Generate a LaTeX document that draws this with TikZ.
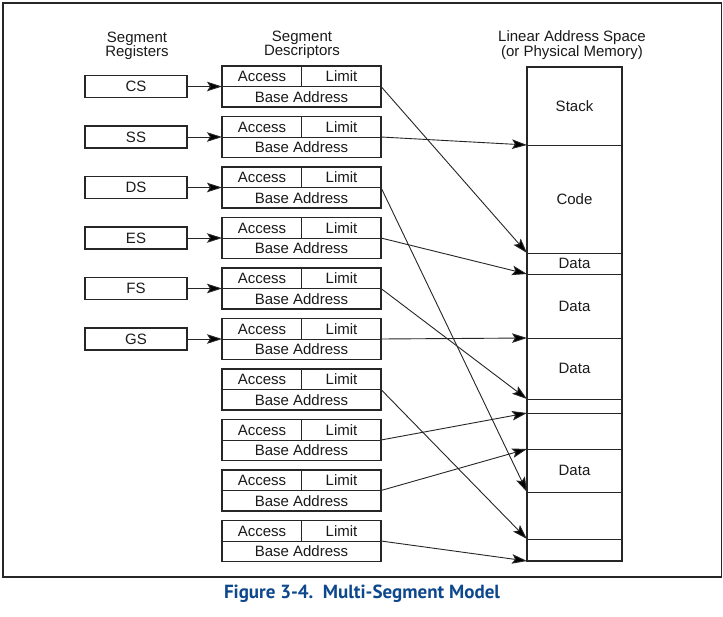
\documentclass[tikz,border=0pt]{standalone}
\usepackage{fontspec}
\setmainfont{Liberation Sans}
\newfontfamily\capfont{PT Sans}
\usetikzlibrary{arrows.meta,positioning}
\definecolor{linec}{HTML}{262626}
\definecolor{txtc}{HTML}{1A1A1A}
\definecolor{capblue}{RGB}{14,72,140}

\begin{document}
\begin{tikzpicture}[x=1pt, y=-1pt]
\tikzset{ inner sep=0pt, outer sep=0pt,
  every node/.style={font=\fontsize{15}{14.5}\selectfont, text=txtc},
  regbox/.style={draw=linec, line width=1.3pt, minimum width=102, minimum height=22},
  descbox/.style={draw=linec, line width=1.4pt, minimum width=159, minimum height=41,
    path picture={
      \draw [linec, line width=0.8pt] (path picture bounding box.west) -- (path picture bounding box.east);
      \draw [linec, line width=0.8pt] (path picture bounding box.north) -- (path picture bounding box.center);
      \node at ([xshift=-39.5pt, yshift=10pt]path picture bounding box.center) {Access};
      \node at ([xshift=40pt, yshift=10pt]path picture bounding box.center) {Limit};
      \node at ([yshift=-10.5pt]path picture bounding box.center) {Base Address};
    }},
  memseg/.style={draw=linec, line width=0.8pt, minimum width=95},
  link/.style={-{Stealth[length=15pt, width=9.5pt, inset=3pt, fill=black]}, draw=linec, line width=0.9pt},
}

\useasboundingbox [fill=white] (0,0) rectangle (723,616);
\draw [linec, line width=1.3pt] (3,3) rectangle (721.5,577);

% headings
\node [align=center] (hreg)  at (137,46) {Segment\\Registers};
\node [align=center] (hdesc) at (302,45) {Segment\\Descriptors};
\node [align=center] (hmem)  at (572,45) {Linear Address Space\\(or Physical Memory)};

% segment registers
\node [regbox] (CS) at (136,86.5)  {CS};
\node [regbox] (SS) at (136,137)   {SS};
\node [regbox] (DS) at (136,187.5) {DS};
\node [regbox] (ES) at (136,238)   {ES};
\node [regbox] (FS) at (136,288.5) {FS};
\node [regbox] (GS) at (136,339)   {GS};

% descriptors
\node [descbox] (desc1)  at (301.5,86.5)  {};
\node [descbox] (desc2)  at (301.5,137)   {};
\node [descbox] (desc3)  at (301.5,187.5) {};
\node [descbox] (desc4)  at (301.5,238)   {};
\node [descbox] (desc5)  at (301.5,288.5) {};
\node [descbox] (desc6)  at (301.5,339)   {};
\node [descbox] (desc7)  at (301.5,389.5) {};
\node [descbox] (desc8)  at (301.5,440)   {};
\node [descbox] (desc9)  at (301.5,490.5) {};
\node [descbox] (desc10) at (301.5,541)   {};

% linear address space
\node [memseg, minimum height=78] (stack) at (574.5,106) {Stack};
\node [memseg, minimum height=108, below=0pt of stack] (code)  {Code};
\node [memseg, minimum height=21,  below=0pt of code]  (data1) {Data};
\node [memseg, minimum height=64,  below=0pt of data1] (data2) {Data};
\node [memseg, minimum height=61,  below=0pt of data2] (data3) {Data};
\node [memseg, minimum height=14,  below=0pt of data3] (free1) {};
\node [memseg, minimum height=36,  below=0pt of free1] (free2) {};
\node [memseg, minimum height=43,  below=0pt of free2] (data4) {Data};
\node [memseg, minimum height=47,  below=0pt of data4] (free3) {};
\node [memseg, minimum height=22,  below=0pt of free3] (free4) {};
\draw [linec, line width=1.4pt] (stack.north west) rectangle (free4.south east);

\draw [link] (CS) -- (desc1);
\draw [link] (SS) -- (desc2);
\draw [link] (DS) -- (desc3);
\draw [link] (ES) -- (desc4);
\draw [link] (FS) -- (desc5);
\draw [link] (GS) -- (desc6);

\draw [link] (desc1.east)  -- (data1.north west);
\draw [link] (desc2.east)  -- (code.north west);
\draw [link] (desc3.east)  -- (free3.north west);
\draw [link] (desc4.east)  -- (data2.north west);
\draw [link] (desc5.east)  -- (free1.north west);
\draw [link] (desc6.east)  -- (data3.north west);
\draw [link] (desc7.east)  -- (free4.north west);
\draw [link] (desc8.east)  -- (free2.north west);
\draw [link] (desc9.east)  -- (data4.north west);
\draw [link] (desc10.east) -- (free4.south west);

\node [font=\capfont\bfseries\fontsize{19}{19}\selectfont, text=capblue] (caption) at (362,594) {Figure 3-4.\ \ Multi-Segment Model};

\end{tikzpicture}
\end{document}
